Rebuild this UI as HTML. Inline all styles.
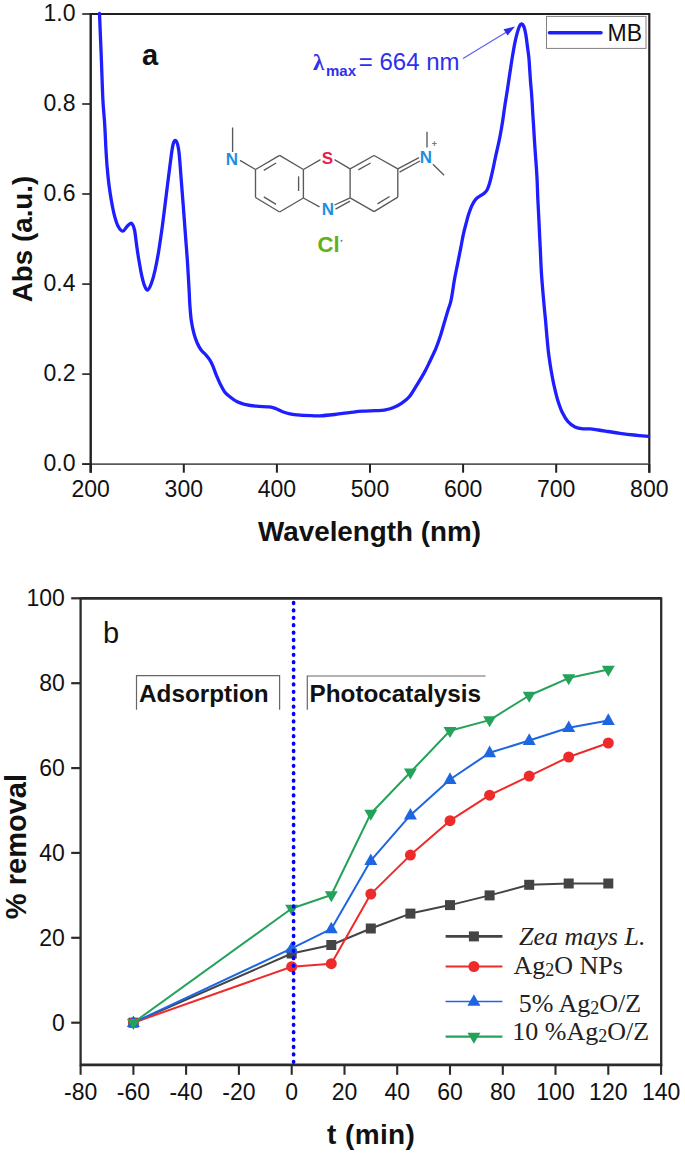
<!DOCTYPE html>
<html><head><meta charset="utf-8"><style>
html,body{margin:0;padding:0;background:#fff;width:685px;height:1154px;overflow:hidden}
svg{display:block}
text{font-family:"Liberation Sans",sans-serif;fill:#111}
.tk{font-size:23px}
.ttl{font-size:27.8px;font-weight:bold}
.ttl2{font-size:24.3px;font-weight:bold}
.ttlb{font-size:29px;font-weight:bold}
.lbl{font-size:29px}
.atom{font-size:17px;font-weight:bold}
.leg{font-family:"Liberation Serif",serif;font-size:26px;fill:#222}
</style></head><body>
<svg width="685" height="1154" viewBox="0 0 685 1154">
<rect width="685" height="1154" fill="#fff"/>
<line x1="90.7" y1="14" x2="649.3" y2="14" stroke="#231f20" stroke-width="2.2"/>
<line x1="649.3" y1="13" x2="649.3" y2="472.7" stroke="#231f20" stroke-width="2.2"/>
<line x1="82.2" y1="464.1" x2="649.3" y2="464.1" stroke="#5a5a5a" stroke-width="1.8"/>
<line x1="90.7" y1="13" x2="90.7" y2="472.7" stroke="#231f20" stroke-width="2.4"/>
<line x1="82.2" y1="464.1" x2="90.7" y2="464.1" stroke="#231f20" stroke-width="1.6"/>
<text x="75.5" y="471.3" text-anchor="end" class="tk">0.0</text>
<line x1="82.2" y1="374.1" x2="90.7" y2="374.1" stroke="#231f20" stroke-width="1.6"/>
<text x="75.5" y="381.3" text-anchor="end" class="tk">0.2</text>
<line x1="82.2" y1="284.1" x2="90.7" y2="284.1" stroke="#231f20" stroke-width="1.6"/>
<text x="75.5" y="291.3" text-anchor="end" class="tk">0.4</text>
<line x1="82.2" y1="194.0" x2="90.7" y2="194.0" stroke="#231f20" stroke-width="1.6"/>
<text x="75.5" y="201.2" text-anchor="end" class="tk">0.6</text>
<line x1="82.2" y1="104.0" x2="90.7" y2="104.0" stroke="#231f20" stroke-width="1.6"/>
<text x="75.5" y="111.2" text-anchor="end" class="tk">0.8</text>
<line x1="82.2" y1="14.0" x2="90.7" y2="14.0" stroke="#231f20" stroke-width="1.6"/>
<text x="75.5" y="21.2" text-anchor="end" class="tk">1.0</text>
<line x1="90.7" y1="464.1" x2="90.7" y2="472.7" stroke="#231f20" stroke-width="2"/>
<text x="90.7" y="497.2" text-anchor="middle" class="tk">200</text>
<line x1="183.8" y1="464.1" x2="183.8" y2="472.7" stroke="#231f20" stroke-width="2"/>
<text x="183.8" y="497.2" text-anchor="middle" class="tk">300</text>
<line x1="276.9" y1="464.1" x2="276.9" y2="472.7" stroke="#231f20" stroke-width="2"/>
<text x="276.9" y="497.2" text-anchor="middle" class="tk">400</text>
<line x1="370.0" y1="464.1" x2="370.0" y2="472.7" stroke="#231f20" stroke-width="2"/>
<text x="370.0" y="497.2" text-anchor="middle" class="tk">500</text>
<line x1="463.1" y1="464.1" x2="463.1" y2="472.7" stroke="#231f20" stroke-width="2"/>
<text x="463.1" y="497.2" text-anchor="middle" class="tk">600</text>
<line x1="556.2" y1="464.1" x2="556.2" y2="472.7" stroke="#231f20" stroke-width="2"/>
<text x="556.2" y="497.2" text-anchor="middle" class="tk">700</text>
<line x1="649.3" y1="464.1" x2="649.3" y2="472.7" stroke="#231f20" stroke-width="2"/>
<text x="649.3" y="497.2" text-anchor="middle" class="tk">800</text>
<text x="369.5" y="541" text-anchor="middle" class="ttl">Wavelength (nm)</text>
<text transform="translate(32.3,239) rotate(-90)" text-anchor="middle" class="ttl">Abs (a.u.)</text>
<text x="142" y="65" class="lbl" font-weight="bold">a</text>
<path d="M99.5,13.5 C99.8,20.4 100.6,40.6 101.2,55.0 C101.8,69.4 102.3,88.5 102.9,100.0 C103.5,111.5 104.2,116.2 104.7,124.3 C105.2,132.4 105.5,141.4 105.9,148.5 C106.3,155.6 106.6,160.6 107.1,166.7 C107.6,172.8 108.3,179.3 109.0,185.0 C109.7,190.7 110.5,195.6 111.4,200.7 C112.3,205.8 113.3,211.1 114.4,215.3 C115.5,219.6 116.7,223.6 118.1,226.2 C119.5,228.8 121.4,231.1 122.9,231.1 C124.4,231.1 125.8,227.5 127.2,226.2 C128.6,224.9 130.2,222.6 131.4,223.2 C132.6,223.8 133.5,225.9 134.4,229.5 C135.3,233.1 135.9,240.0 136.6,245.0 C137.3,250.0 137.9,254.5 138.8,259.7 C139.7,264.8 140.8,271.5 141.8,275.9 C142.8,280.3 143.7,283.9 144.7,286.2 C145.7,288.5 146.6,290.4 147.7,289.9 C148.8,289.4 150.2,286.6 151.4,283.3 C152.6,280.0 153.9,275.4 155.1,270.0 C156.3,264.6 157.5,258.3 158.7,250.9 C159.9,243.5 161.2,234.9 162.4,225.8 C163.6,216.7 164.9,206.1 166.1,196.3 C167.3,186.5 168.7,175.2 169.8,166.8 C170.9,158.5 171.8,150.6 172.7,146.2 C173.6,141.8 174.5,140.0 175.5,140.5 C176.5,141.0 177.7,143.6 178.6,149.2 C179.5,154.8 180.1,165.1 180.8,174.2 C181.6,183.3 182.3,193.9 183.1,203.7 C183.8,213.5 184.6,223.4 185.3,233.2 C186.0,243.0 186.9,253.1 187.5,262.6 C188.1,272.1 188.7,282.8 189.1,290.0 C189.5,297.2 189.5,300.4 189.9,305.6 C190.3,310.8 190.7,316.5 191.4,321.2 C192.1,325.9 193.0,330.1 194.0,333.7 C195.0,337.3 196.0,340.2 197.2,343.0 C198.4,345.8 199.9,348.4 201.3,350.3 C202.7,352.2 204.1,352.9 205.5,354.5 C206.9,356.1 208.4,357.8 209.6,359.7 C210.8,361.6 211.7,363.3 212.8,365.9 C213.9,368.5 215.2,372.4 216.4,375.3 C217.6,378.2 218.6,380.8 220.0,383.6 C221.4,386.4 222.9,389.6 224.7,391.9 C226.4,394.2 228.4,395.5 230.5,397.2 C232.6,398.9 235.0,400.6 237.3,401.8 C239.7,403.0 241.4,403.6 244.6,404.3 C247.8,405.0 252.2,405.8 256.3,406.2 C260.4,406.6 266.2,406.5 269.4,406.9 C272.6,407.3 273.1,407.6 275.3,408.4 C277.5,409.2 280.2,410.8 282.6,411.7 C285.0,412.6 287.0,413.3 289.9,413.9 C292.8,414.5 296.5,414.9 300.1,415.2 C303.8,415.5 308.5,415.6 311.8,415.7 C315.1,415.8 316.2,416.0 320.0,415.8 C323.8,415.6 329.7,415.0 334.6,414.5 C339.5,414.0 344.6,413.2 349.2,412.6 C353.8,412.1 357.9,411.5 362.3,411.2 C366.7,410.9 371.9,410.9 375.5,410.7 C379.1,410.5 381.3,410.6 384.2,410.1 C387.1,409.6 390.1,409.0 393.0,407.8 C395.9,406.6 399.1,405.0 401.8,403.1 C404.6,401.2 406.9,399.7 409.5,396.5 C412.1,393.3 414.9,388.1 417.4,384.1 C419.9,380.1 422.3,376.3 424.4,372.4 C426.5,368.5 428.2,364.8 430.2,360.7 C432.1,356.6 434.4,352.2 436.1,347.9 C437.9,343.6 439.2,339.5 440.7,335.0 C442.1,330.5 443.5,325.3 444.8,321.0 C446.1,316.7 447.2,312.8 448.3,309.3 C449.4,305.8 450.1,305.1 451.1,300.0 C452.2,294.9 453.5,284.9 454.6,278.8 C455.7,272.7 456.7,268.4 457.7,263.2 C458.7,258.0 459.9,252.4 460.8,247.6 C461.8,242.8 462.5,238.1 463.4,234.1 C464.3,230.1 465.1,227.0 466.0,223.7 C466.9,220.4 467.7,217.2 468.6,214.3 C469.6,211.4 470.5,208.5 471.7,206.0 C472.9,203.5 474.4,200.9 475.9,199.2 C477.4,197.5 479.2,196.6 480.6,195.6 C482.0,194.6 483.1,194.3 484.2,193.3 C485.3,192.3 486.4,191.2 487.3,189.4 C488.2,187.6 488.8,186.1 489.8,182.5 C490.8,178.9 492.3,172.2 493.3,167.6 C494.3,163.0 495.0,159.1 495.9,155.1 C496.8,151.1 497.7,147.3 498.5,143.7 C499.3,140.1 499.9,137.1 500.6,133.3 C501.3,129.5 502.0,125.3 502.7,120.8 C503.4,116.2 504.0,111.3 504.8,106.0 C505.6,100.7 506.7,94.5 507.5,89.1 C508.3,83.7 509.0,78.7 509.8,73.5 C510.6,68.3 511.4,62.7 512.2,57.9 C513.0,53.1 513.7,48.8 514.5,44.6 C515.3,40.4 516.4,36.0 517.2,32.9 C518.1,29.8 518.9,27.4 519.6,25.9 C520.3,24.4 520.9,23.9 521.6,24.0 C522.3,24.1 523.2,24.9 523.9,26.7 C524.6,28.4 525.2,31.2 525.8,34.5 C526.4,37.8 526.9,42.3 527.4,46.2 C527.9,50.1 528.5,54.0 528.9,57.9 C529.3,61.8 529.4,65.7 529.7,69.6 C530.0,73.5 530.2,77.4 530.5,81.3 C530.8,85.2 531.2,89.0 531.5,93.0 C531.8,97.0 532.1,101.2 532.3,105.0 C532.5,108.8 532.6,111.2 532.9,115.6 C533.2,120.0 533.6,126.0 533.9,131.2 C534.2,136.4 534.5,141.6 534.9,146.8 C535.2,152.0 535.6,157.2 536.0,162.4 C536.4,167.6 536.7,172.8 537.0,178.0 C537.3,183.2 537.4,188.3 537.6,193.6 C537.8,198.9 538.1,203.8 538.4,210.0 C538.7,216.2 539.1,223.9 539.4,230.8 C539.7,237.7 540.1,244.7 540.4,251.6 C540.7,258.5 541.0,265.5 541.4,272.4 C541.8,279.3 542.5,287.1 543.0,293.2 C543.5,299.3 544.0,304.3 544.4,308.8 C544.8,313.3 545.1,315.2 545.5,320.0 C545.9,324.8 546.5,331.7 547.0,337.5 C547.5,343.3 548.1,349.6 548.8,355.0 C549.5,360.4 550.2,365.1 551.1,370.2 C552.0,375.3 552.9,380.5 554.0,385.4 C555.1,390.3 556.1,394.9 557.5,399.4 C558.9,403.9 560.5,408.6 562.2,412.3 C564.0,416.0 565.9,419.2 568.0,421.6 C570.1,424.0 572.5,425.7 575.0,426.9 C577.5,428.1 580.7,428.5 583.2,428.8 C585.7,429.1 587.7,428.7 590.2,428.9 C592.7,429.1 595.5,429.6 598.4,430.0 C601.3,430.4 604.1,430.9 607.7,431.5 C611.3,432.1 615.6,432.7 620.0,433.3 C624.4,433.9 629.2,434.5 634.0,435.0 C638.8,435.5 646.2,436.2 648.6,436.4" fill="none" stroke="#1e1eff" stroke-width="3.3" stroke-linejoin="round" stroke-linecap="round"/>
<text x="313" y="70.2" style="fill:#2f2fee;font-size:23px;font-weight:bold;font-family:&quot;Liberation Serif&quot;,serif">&#955;</text>
<text x="326" y="75.8" style="fill:#2f2fee;font-size:15px;font-weight:bold">max</text>
<text x="358.8" y="69.8" style="fill:#2f2fee;font-size:24px">= 664 nm</text>
<line x1="463" y1="58.5" x2="507" y2="31.8" stroke="#5c5cf2" stroke-width="1.1"/>
<path d="M515,26.5 L503.5,29.2 L507.6,35.6 Z" fill="#2a2af0"/>
<rect x="546.5" y="16.4" width="99.5" height="32" fill="#fff" stroke="#808080" stroke-width="1"/>
<line x1="549.5" y1="32.8" x2="601" y2="32.8" stroke="#1e1eff" stroke-width="3.6" stroke-linecap="round"/>
<text x="607.5" y="41" class="tk">MB</text>
<line x1="255.5" y1="169.5" x2="279.6" y2="155.3" stroke="#595959" stroke-width="1.35"/>
<line x1="279.6" y1="155.3" x2="303.4" y2="169.5" stroke="#595959" stroke-width="1.35"/>
<line x1="303.4" y1="169.5" x2="303.4" y2="198.0" stroke="#595959" stroke-width="1.35"/>
<line x1="303.4" y1="198.0" x2="279.6" y2="212.0" stroke="#595959" stroke-width="1.35"/>
<line x1="279.6" y1="212.0" x2="255.5" y2="197.5" stroke="#595959" stroke-width="1.35"/>
<line x1="255.5" y1="197.5" x2="255.5" y2="169.5" stroke="#595959" stroke-width="1.35"/>
<line x1="263.8" y1="170.3" x2="276.1" y2="163.0" stroke="#595959" stroke-width="1.35"/>
<line x1="298.6" y1="176.4" x2="298.6" y2="191.0" stroke="#595959" stroke-width="1.35"/>
<line x1="276.1" y1="204.3" x2="263.8" y2="196.8" stroke="#595959" stroke-width="1.35"/>
<line x1="350.1" y1="168.8" x2="374.1" y2="155.5" stroke="#595959" stroke-width="1.35"/>
<line x1="374.1" y1="155.5" x2="397.8" y2="168.8" stroke="#595959" stroke-width="1.35"/>
<line x1="397.8" y1="168.8" x2="397.8" y2="197.2" stroke="#595959" stroke-width="1.35"/>
<line x1="397.8" y1="197.2" x2="374.1" y2="211.6" stroke="#595959" stroke-width="1.35"/>
<line x1="374.1" y1="211.6" x2="350.1" y2="197.8" stroke="#595959" stroke-width="1.35"/>
<line x1="350.1" y1="197.8" x2="350.1" y2="168.8" stroke="#595959" stroke-width="1.35"/>
<line x1="358.3" y1="169.8" x2="370.6" y2="163.0" stroke="#595959" stroke-width="1.35"/>
<line x1="389.6" y1="196.5" x2="377.5" y2="203.9" stroke="#595959" stroke-width="1.35"/>
<line x1="303.4" y1="169.5" x2="320.5" y2="159.6" stroke="#595959" stroke-width="1.35"/>
<line x1="334.5" y1="159.6" x2="350.1" y2="168.8" stroke="#595959" stroke-width="1.35"/>
<line x1="303.4" y1="198.0" x2="319.5" y2="206.8" stroke="#595959" stroke-width="1.35"/>
<line x1="334.5" y1="205.0" x2="350.1" y2="197.8" stroke="#595959" stroke-width="1.35"/>
<line x1="335.5" y1="209.2" x2="350.1" y2="201.2" stroke="#595959" stroke-width="1.35"/>
<line x1="240.0" y1="160.3" x2="255.5" y2="169.5" stroke="#595959" stroke-width="1.35"/>
<line x1="232.6" y1="127.5" x2="232.6" y2="152.0" stroke="#595959" stroke-width="1.35"/>
<line x1="397.8" y1="168.8" x2="419.0" y2="157.6" stroke="#595959" stroke-width="1.35"/>
<line x1="399.5" y1="172.2" x2="420.0" y2="161.0" stroke="#595959" stroke-width="1.35"/>
<line x1="427.0" y1="131.8" x2="427.0" y2="147.5" stroke="#595959" stroke-width="1.35"/>
<line x1="432.9" y1="164.3" x2="444.1" y2="175.2" stroke="#595959" stroke-width="1.35"/>
<text x="232" y="165" text-anchor="middle" class="atom" style="fill:#1e8fe0">N</text>
<text x="327.3" y="164.3" text-anchor="middle" class="atom" style="fill:#e8204e">S</text>
<text x="327.8" y="215" text-anchor="middle" class="atom" style="fill:#1e8fe0">N</text>
<text x="425.8" y="163" text-anchor="middle" class="atom" style="fill:#1e8fe0">N</text>
<text x="434.5" y="147" text-anchor="middle" font-size="9" style="fill:#777" font-weight="bold">+</text>
<text x="317.5" y="251.6" class="atom" style="fill:#62b01c;font-size:22px">Cl</text>
<circle cx="341.5" cy="240.7" r="1" fill="#777"/>
<line x1="80.6" y1="598.4" x2="661.2" y2="598.4" stroke="#2b2b2b" stroke-width="2.6"/>
<line x1="661.2" y1="597.2" x2="661.2" y2="1065.9" stroke="#2b2b2b" stroke-width="2.3"/>
<line x1="80.6" y1="1064.9" x2="662.2" y2="1064.9" stroke="#2b2b2b" stroke-width="2.6"/>
<line x1="80.6" y1="597.2" x2="80.6" y2="1066.1" stroke="#2b2b2b" stroke-width="2.3"/>
<line x1="71.2" y1="1022.7" x2="80.6" y2="1022.7" stroke="#2b2b2b" stroke-width="2.2"/>
<text x="64.8" y="1030.7" text-anchor="end" class="tk">0</text>
<line x1="71.2" y1="937.8" x2="80.6" y2="937.8" stroke="#2b2b2b" stroke-width="2.2"/>
<text x="64.8" y="945.8" text-anchor="end" class="tk">20</text>
<line x1="71.2" y1="852.9" x2="80.6" y2="852.9" stroke="#2b2b2b" stroke-width="2.2"/>
<text x="64.8" y="860.9" text-anchor="end" class="tk">40</text>
<line x1="71.2" y1="768.1" x2="80.6" y2="768.1" stroke="#2b2b2b" stroke-width="2.2"/>
<text x="64.8" y="776.1" text-anchor="end" class="tk">60</text>
<line x1="71.2" y1="683.2" x2="80.6" y2="683.2" stroke="#2b2b2b" stroke-width="2.2"/>
<text x="64.8" y="691.2" text-anchor="end" class="tk">80</text>
<line x1="71.2" y1="598.3" x2="80.6" y2="598.3" stroke="#2b2b2b" stroke-width="2.2"/>
<text x="64.8" y="606.3" text-anchor="end" class="tk">100</text>
<line x1="80.6" y1="1064.9" x2="80.6" y2="1074.8" stroke="#2b2b2b" stroke-width="2.1"/>
<text x="80.6" y="1099.8" text-anchor="middle" class="tk">-80</text>
<line x1="133.4" y1="1064.9" x2="133.4" y2="1074.8" stroke="#2b2b2b" stroke-width="2.1"/>
<text x="133.4" y="1099.8" text-anchor="middle" class="tk">-60</text>
<line x1="186.1" y1="1064.9" x2="186.1" y2="1074.8" stroke="#2b2b2b" stroke-width="2.1"/>
<text x="186.1" y="1099.8" text-anchor="middle" class="tk">-40</text>
<line x1="238.9" y1="1064.9" x2="238.9" y2="1074.8" stroke="#2b2b2b" stroke-width="2.1"/>
<text x="238.9" y="1099.8" text-anchor="middle" class="tk">-20</text>
<line x1="291.7" y1="1064.9" x2="291.7" y2="1074.8" stroke="#2b2b2b" stroke-width="2.1"/>
<text x="291.7" y="1099.8" text-anchor="middle" class="tk">0</text>
<line x1="344.5" y1="1064.9" x2="344.5" y2="1074.8" stroke="#2b2b2b" stroke-width="2.1"/>
<text x="344.5" y="1099.8" text-anchor="middle" class="tk">20</text>
<line x1="397.2" y1="1064.9" x2="397.2" y2="1074.8" stroke="#2b2b2b" stroke-width="2.1"/>
<text x="397.2" y="1099.8" text-anchor="middle" class="tk">40</text>
<line x1="450.0" y1="1064.9" x2="450.0" y2="1074.8" stroke="#2b2b2b" stroke-width="2.1"/>
<text x="450.0" y="1099.8" text-anchor="middle" class="tk">60</text>
<line x1="502.8" y1="1064.9" x2="502.8" y2="1074.8" stroke="#2b2b2b" stroke-width="2.1"/>
<text x="502.8" y="1099.8" text-anchor="middle" class="tk">80</text>
<line x1="555.5" y1="1064.9" x2="555.5" y2="1074.8" stroke="#2b2b2b" stroke-width="2.1"/>
<text x="555.5" y="1099.8" text-anchor="middle" class="tk">100</text>
<line x1="608.3" y1="1064.9" x2="608.3" y2="1074.8" stroke="#2b2b2b" stroke-width="2.1"/>
<text x="608.3" y="1099.8" text-anchor="middle" class="tk">120</text>
<line x1="661.1" y1="1064.9" x2="661.1" y2="1074.8" stroke="#2b2b2b" stroke-width="2.1"/>
<text x="661.1" y="1099.8" text-anchor="middle" class="tk">140</text>
<text x="371.2" y="1143.5" text-anchor="middle" class="ttlb" style="font-size:28px;letter-spacing:0.4px">t (min)</text>
<text transform="translate(25.5,846.6) rotate(-90)" text-anchor="middle" class="ttlb">% removal</text>
<text x="103" y="643.4" class="lbl">b</text>
<path d="M136.5,709.7 V675.7 H279.6 V709.7" fill="none" stroke="#666" stroke-width="1.2"/>
<text x="139" y="701.7" class="ttl2">Adsorption</text>
<path d="M307.3,709.8 V676 H485.5" fill="none" stroke="#666" stroke-width="1.2"/>
<text x="309.5" y="701.9" class="ttl2">Photocatalysis</text>
<polyline points="133.4,1022.7 291.7,953.5 331.3,945.0 370.8,928.5 410.4,913.6 450.0,905.1 489.6,895.4 529.2,884.8 568.7,883.5 608.3,883.5" fill="none" stroke="#444444" stroke-width="2" stroke-linejoin="round"/>
<rect x="128.4" y="1017.7" width="10" height="10" fill="#444444"/>
<rect x="286.7" y="948.5" width="10" height="10" fill="#444444"/>
<rect x="326.3" y="940.0" width="10" height="10" fill="#444444"/>
<rect x="365.8" y="923.5" width="10" height="10" fill="#444444"/>
<rect x="405.4" y="908.6" width="10" height="10" fill="#444444"/>
<rect x="445.0" y="900.1" width="10" height="10" fill="#444444"/>
<rect x="484.6" y="890.4" width="10" height="10" fill="#444444"/>
<rect x="524.2" y="879.8" width="10" height="10" fill="#444444"/>
<rect x="563.7" y="878.5" width="10" height="10" fill="#444444"/>
<rect x="603.3" y="878.5" width="10" height="10" fill="#444444"/>
<polyline points="133.4,1022.7 291.7,966.7 331.3,963.7 370.8,894.1 410.4,855.1 450.0,820.7 489.6,795.2 529.2,776.1 568.7,757.0 608.3,743.0" fill="none" stroke="#ee2b2b" stroke-width="2" stroke-linejoin="round"/>
<circle cx="133.4" cy="1022.7" r="5.5" fill="#ee2b2b"/>
<circle cx="291.7" cy="966.7" r="5.5" fill="#ee2b2b"/>
<circle cx="331.3" cy="963.7" r="5.5" fill="#ee2b2b"/>
<circle cx="370.8" cy="894.1" r="5.5" fill="#ee2b2b"/>
<circle cx="410.4" cy="855.1" r="5.5" fill="#ee2b2b"/>
<circle cx="450.0" cy="820.7" r="5.5" fill="#ee2b2b"/>
<circle cx="489.6" cy="795.2" r="5.5" fill="#ee2b2b"/>
<circle cx="529.2" cy="776.1" r="5.5" fill="#ee2b2b"/>
<circle cx="568.7" cy="757.0" r="5.5" fill="#ee2b2b"/>
<circle cx="608.3" cy="743.0" r="5.5" fill="#ee2b2b"/>
<polyline points="133.4,1022.7 291.7,948.4 331.3,928.9 370.8,860.6 410.4,815.2 450.0,779.5 489.6,752.8 529.2,740.5 568.7,727.7 608.3,720.5" fill="none" stroke="#1d66e0" stroke-width="2" stroke-linejoin="round"/>
<path d="M133.4,1015.5 L139.9,1027.1 L126.9,1027.1 Z" fill="#1d66e0"/>
<path d="M291.7,941.2 L298.2,952.8 L285.2,952.8 Z" fill="#1d66e0"/>
<path d="M331.3,921.7 L337.8,933.3 L324.8,933.3 Z" fill="#1d66e0"/>
<path d="M370.8,853.4 L377.3,865.0 L364.3,865.0 Z" fill="#1d66e0"/>
<path d="M410.4,808.0 L416.9,819.6 L403.9,819.6 Z" fill="#1d66e0"/>
<path d="M450.0,772.3 L456.5,783.9 L443.5,783.9 Z" fill="#1d66e0"/>
<path d="M489.6,745.6 L496.1,757.2 L483.1,757.2 Z" fill="#1d66e0"/>
<path d="M529.2,733.3 L535.7,744.9 L522.7,744.9 Z" fill="#1d66e0"/>
<path d="M568.7,720.5 L575.2,732.1 L562.2,732.1 Z" fill="#1d66e0"/>
<path d="M608.3,713.3 L614.8,724.9 L601.8,724.9 Z" fill="#1d66e0"/>
<polyline points="133.4,1022.7 291.7,908.5 331.3,895.0 370.8,813.5 410.4,772.3 450.0,730.7 489.6,720.1 529.2,695.5 568.7,678.1 608.3,669.6" fill="none" stroke="#25a25a" stroke-width="2" stroke-linejoin="round"/>
<path d="M133.4,1029.9 L139.9,1018.9 L126.9,1018.9 Z" fill="#25a25a"/>
<path d="M291.7,915.7 L298.2,904.7 L285.2,904.7 Z" fill="#25a25a"/>
<path d="M331.3,902.2 L337.8,891.2 L324.8,891.2 Z" fill="#25a25a"/>
<path d="M370.8,820.7 L377.3,809.7 L364.3,809.7 Z" fill="#25a25a"/>
<path d="M410.4,779.5 L416.9,768.5 L403.9,768.5 Z" fill="#25a25a"/>
<path d="M450.0,737.9 L456.5,726.9 L443.5,726.9 Z" fill="#25a25a"/>
<path d="M489.6,727.3 L496.1,716.3 L483.1,716.3 Z" fill="#25a25a"/>
<path d="M529.2,702.7 L535.7,691.7 L522.7,691.7 Z" fill="#25a25a"/>
<path d="M568.7,685.3 L575.2,674.3 L562.2,674.3 Z" fill="#25a25a"/>
<path d="M608.3,676.8 L614.8,665.8 L601.8,665.8 Z" fill="#25a25a"/>
<line x1="293.6" y1="602.7" x2="293.6" y2="1064" stroke="#0000ff" stroke-width="3.7" stroke-linecap="round" stroke-dasharray="0.6 6.8"/>
<line x1="445.6" y1="936.4" x2="502.4" y2="936.4" stroke="#444444" stroke-width="2.8"/>
<rect x="468.9" y="931.4" width="10" height="10" fill="#444444"/>
<text x="519.0" y="944.5" class="leg"><tspan font-style="italic">Zea mays L.</tspan></text>
<line x1="445.6" y1="966.5" x2="502.4" y2="966.5" stroke="#ee2b2b" stroke-width="2.0"/>
<circle cx="473.9" cy="966.5" r="5.5" fill="#ee2b2b"/>
<text x="513.5" y="973.5" class="leg">Ag<tspan font-size="18" dy="2">2</tspan><tspan dy="-2">O NPs</tspan></text>
<line x1="445.6" y1="1001.4" x2="502.4" y2="1001.4" stroke="#1d66e0" stroke-width="1.5"/>
<path d="M473.9,994.2 L480.4,1005.8 L467.4,1005.8 Z" fill="#1d66e0"/>
<text x="518.7" y="1012.0" class="leg">5% Ag<tspan font-size="18" dy="2">2</tspan><tspan dy="-2">O/Z</tspan></text>
<line x1="445.6" y1="1036.6" x2="502.4" y2="1036.6" stroke="#25a25a" stroke-width="2.4"/>
<path d="M473.9,1043.8 L480.4,1032.8 L467.4,1032.8 Z" fill="#25a25a"/>
<text x="512.3" y="1040.0" class="leg">10 %Ag<tspan font-size="18" dy="2">2</tspan><tspan dy="-2">O/Z</tspan></text>
</svg>
</body></html>
